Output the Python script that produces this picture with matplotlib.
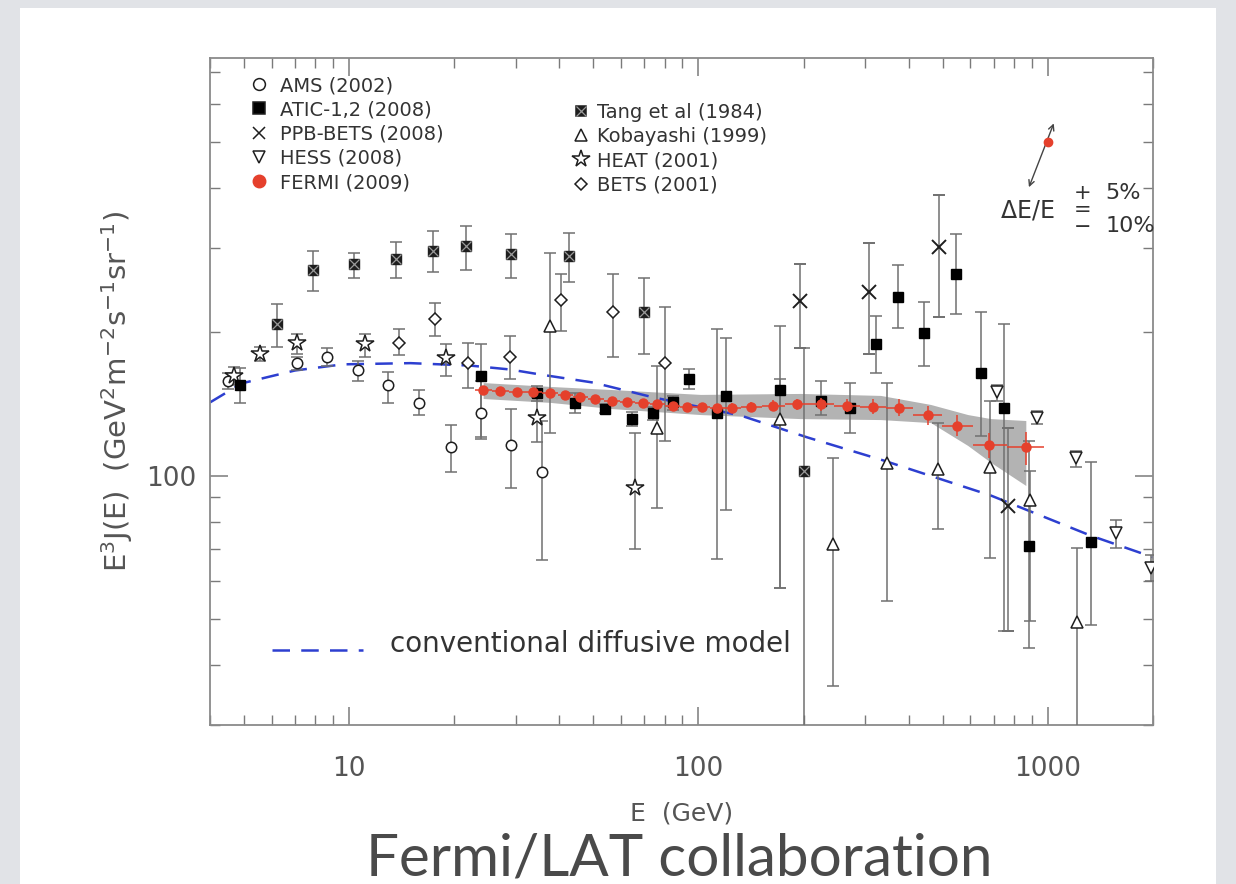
import matplotlib.pyplot as plt
import numpy as np
from matplotlib.lines import Line2D
from matplotlib.patches import Rectangle
from matplotlib.legend_handler import HandlerTuple
from matplotlib.ticker import FixedLocator, LogLocator, NullFormatter, FuncFormatter

# E in GeV, E^3 J(E) in GeV^2 m^-2 s^-1 sr^-1 ; lo/hi are error bar ends
ams_e = [4.5, 7.1, 8.65, 10.6, 12.9, 15.9, 19.6, 23.9, 29.1, 35.7]
ams_j = [158, 172, 177, 166, 154.5, 142, 114.5, 135.5, 115.6, 101.5]
ams_lo = [152, 166, 170, 157.5, 141.6, 133.6, 101.5, 120.2, 94, 66.4]
ams_hi = [164, 177.4, 184.6, 174, 165, 151.4, 127.9, 158, 138.1, 130]

atic_e = [4.87, 23.9, 34.6, 44.4, 54.2, 64.7, 74.3, 84.8, 94.2, 113, 120, 171,
          224, 272, 323, 372, 441, 545, 643, 748, 882, 1328]
atic_j = [154.5, 162, 148.6, 142, 138, 131.6, 135, 142.3, 159, 135.5, 147, 151,
          143.6, 138.8, 189, 237, 198.5, 264, 164, 138.8, 71.3, 72.4]
atic_lo = [141.6, 119.5, 143, 135.5, 135, 127, 130.5, 137.5, 152, 67, 84.5, 58,
           133.6, 123, 164, 204, 170, 218, 121.3, 47.3, 43.6, 48.5]
atic_hi = [168.4, 189, 154, 148.6, 141, 136, 139.5, 147, 167.6, 203, 194, 206,
           158, 156, 216, 276.6, 231.5, 320, 220, 208, 118.4, 106.5]

ppb_e = [195, 307, 487, 768]
ppb_j = [231.6, 243, 300.6, 86.5]
ppb_lo = [185, 180, 215, 47.3]
ppb_hi = [278, 307.6, 388, 125.5]

hess_e = [714, 929, 1203, 1566, 1972]
hess_j = [149.3, 132, 108.6, 75.6, 64.1]
hess_lo = [143.6, 128.4, 104.4, 70.6, 60]
hess_hi = [155, 136.2, 112.8, 80.5, 68]

tang_e = [6.2, 7.9, 10.3, 13.6, 17.4, 21.6, 29.1, 42.5, 70, 200]
tang_j = [208, 270, 278, 284, 296, 302, 291, 289, 220, 102]
tang_lo = [186, 244, 260, 260, 267, 270, 260, 254, 180, 10]
tang_hi = [229, 296, 293, 308, 325, 333, 320, 323, 259, 185]

koba_e = [37.7, 76.3, 171, 242, 346, 484, 682, 888, 1211]
koba_j = [206, 126, 131.6, 72, 106, 103.4, 104, 88.7, 49.2]
koba_lo = [122.5, 85.3, 58, 36.3, 54.7, 77.4, 67.3, 49.6, 10]
koba_hi = [292, 170, 159.6, 108.6, 156.6, 129.1, 143.6, 102.4, 70.6]

heat_e = [4.7, 5.56, 7.1, 11.1, 19.0, 34.6, 66.0]
heat_j = [162, 180, 190, 189, 176, 132, 94]
heat_lo = [155, 174, 180, 177, 162, 117.5, 70.3]
heat_hi = [169, 186, 198, 198, 189, 145.8, 123]

bets_e = [13.9, 17.6, 21.9, 28.9, 40.3, 57.1, 80.4]
bets_j = [190, 213, 172, 177, 233, 220, 172]
bets_lo = [178.6, 196, 152.6, 159.6, 201, 177, 118.4]
bets_hi = [203, 229.5, 190, 196, 265, 265, 226]

fermi_e = [24.2, 27.1, 30.3, 33.7, 37.7, 41.6, 45.9, 50.7, 56.7, 62.6, 69.2, 76.3,
           84.3, 93.0, 102.6, 113.3, 125, 141, 164, 192, 224, 267, 315, 374,
           453, 548, 678, 865]
fermi_j = [151.4, 150.7, 150, 149.3, 148.6, 147.2, 145.8, 145, 143.6, 142.9, 141.6,
           140.9, 140.2, 139.5, 139.5, 138.8, 138.8, 139.5, 140.2, 140.9, 140.9,
           140.2, 139.5, 138.8, 133.6, 127.3, 115.6, 114.5]
fermi_rel = [0.015] * 16 + [0.02, 0.02, 0.025, 0.025, 0.03, 0.03, 0.035, 0.04,
                            0.045, 0.05, 0.06, 0.08]

band_e = [24.2, 37.7, 56.7, 101.4, 196, 332, 462, 590, 687, 865]
band_hi = [156.6, 153.7, 151.4, 147.9, 148.6, 147.2, 140.9, 134.2, 131.6, 130.4]
band_lo = [145, 142.3, 138.1, 134.2, 131.6, 131, 129.1, 115.6, 106.5, 95.3]

model_e = [4.0, 4.93, 7.0, 9.6, 15.0, 22.2, 28.9, 35.3, 50.0, 74.3, 132, 205, 339,
           687, 1328, 2014]
model_j = [142.3, 156, 166, 171, 172, 170, 166.8, 162.8, 156.6, 145.8, 133.6, 120.2,
           107.5, 90.8, 74.8, 67.3]


def yerr(j, lo, hi):
    j = np.asarray(j, float)
    return [j - np.asarray(lo, float), np.asarray(hi, float) - j]


tc = '#7a7a7a'
plt.rcParams.update({
    'xtick.direction': 'in', 'ytick.direction': 'in',
    'xtick.top': True, 'ytick.right': True,
    'xtick.major.size': 13, 'ytick.major.size': 13,
    'xtick.minor.size': 7, 'ytick.minor.size': 7,
    'xtick.major.width': 1.1, 'ytick.major.width': 1.1,
    'xtick.minor.width': 1.0, 'ytick.minor.width': 1.0,
    'xtick.color': tc, 'ytick.color': tc,
    'xtick.labelcolor': '#555555', 'ytick.labelcolor': '#555555',
    'xtick.labelsize': 19, 'ytick.labelsize': 19,
    'xtick.major.pad': 22, 'ytick.major.pad': 10,
})

W, H = 1236, 884
fig = plt.figure(figsize=(W / 100, H / 100), dpi=100, facecolor='#e1e3e7')
fig.patches.append(Rectangle((20 / W, 0), 1196 / W, 876 / H, transform=fig.transFigure,
                             facecolor='white', edgecolor='none', zorder=-10))
ax = fig.add_axes([210 / W, 159 / H, 943 / W, 667 / H])
ax.set_xscale('log')
ax.set_yscale('log')

ecol = '#707070'
ek = dict(ls='none', ecolor=ecol, elinewidth=1.1, capsize=4.5, capthick=1.1, zorder=3)
dark = '#1e1e1e'

ax.fill_between(band_e, band_lo, band_hi, color='#b3b3b3', lw=0, zorder=1)
ax.plot(model_e, model_j, color='#2d3fd0', lw=1.8, ls=(0, (7, 4.5)), zorder=2)

ax.errorbar(ams_e, ams_j, yerr=yerr(ams_j, ams_lo, ams_hi), marker='o', ms=7.5,
            mfc='white', mec=dark, mew=1.1, **ek)
ax.errorbar(bets_e, bets_j, yerr=yerr(bets_j, bets_lo, bets_hi), marker='D', ms=6.5,
            mfc='white', mec=dark, mew=1.1, **ek)
ax.errorbar(heat_e, heat_j, yerr=yerr(heat_j, heat_lo, heat_hi), marker='*', ms=13,
            mfc='white', mec=dark, mew=1.1, **ek)
ax.errorbar(koba_e, koba_j, yerr=yerr(koba_j, koba_lo, koba_hi), marker='^', ms=8.5,
            mfc='white', mec=dark, mew=1.1, **ek)
ax.errorbar(hess_e, hess_j, yerr=yerr(hess_j, hess_lo, hess_hi), marker='v', ms=8.5,
            mfc='white', mec=dark, mew=1.1, **ek)
ax.errorbar(ppb_e, ppb_j, yerr=yerr(ppb_j, ppb_lo, ppb_hi), marker='x', ms=9.5,
            mec=dark, mew=1.4, **ek)
ax.errorbar(tang_e, tang_j, yerr=yerr(tang_j, tang_lo, tang_hi), marker='s', ms=7,
            mfc=dark, mec=dark, **ek)
ax.plot(tang_e, tang_j, ls='none', marker='x', ms=7, mec='#9a9a9a', mew=0.9, zorder=4)
ax.errorbar(atic_e, atic_j, yerr=yerr(atic_j, atic_lo, atic_hi), marker='s', ms=7.5,
            mfc='black', mec='black', **ek)

# Fermi points with bin-width horizontal bars
fe = np.asarray(fermi_e)
edges = np.sqrt(fe[1:] * fe[:-1])
left = np.concatenate([[fe[0] ** 2 / edges[0]], edges])
right = np.concatenate([edges, [fe[-1] ** 2 / edges[-1]]])
fj = np.asarray(fermi_j)
red = '#e5402c'
ax.errorbar(fe, fj, xerr=[fe - left, right - fe], yerr=fj * np.asarray(fermi_rel),
            ls='none', marker='o', ms=6.5, mfc=red, mec=red, ecolor=red,
            elinewidth=1.1, capsize=0, zorder=5)

ax.set_xlim(4, 2000)
ax.set_ylim(30, 750)

for s in ax.spines.values():
    s.set_color('#8a8a8a')
    s.set_linewidth(1.3)
ax.xaxis.set_major_locator(FixedLocator([10, 100, 1000]))
ax.yaxis.set_major_locator(FixedLocator([100]))
ax.xaxis.set_major_formatter(FuncFormatter(lambda v, p: '%d' % v))
ax.yaxis.set_major_formatter(FuncFormatter(lambda v, p: '%d' % v))
ax.xaxis.set_minor_locator(LogLocator(base=10, subs=np.arange(2, 10), numticks=20))
ax.yaxis.set_minor_locator(LogLocator(base=10, subs=np.arange(2, 10), numticks=20))
ax.xaxis.set_minor_formatter(NullFormatter())
ax.yaxis.set_minor_formatter(NullFormatter())
ax.tick_params(axis='both', which='both', direction='in', top=True, right=True,
               bottom=True, left=True, color=tc, zorder=6)

ax.set_xlabel('E  (GeV)', fontsize=18, color='#555555', labelpad=14)
ax.set_ylabel(r'E$^3$J(E)  (GeV$^2$m$^{-2}$s$^{-1}$sr$^{-1}$)', fontsize=21,
              color='#555555', labelpad=8)

# legends
fs = 14
mk = dict(ls='none', mec=dark, mew=1.1)
h1 = [Line2D([], [], marker='o', ms=8.5, mfc='white', **mk),
      Line2D([], [], marker='s', ms=8.5, mfc='black', **mk),
      Line2D([], [], marker='x', ms=8.5, **mk),
      Line2D([], [], marker='v', ms=8.5, mfc='white', **mk),
      Line2D([], [], marker='o', ms=9, mfc=red, mec=red, ls='none')]
l1 = ['AMS (2002)', 'ATIC-1,2 (2008)', 'PPB-BETS (2008)', 'HESS (2008)', 'FERMI (2009)']
leg1 = ax.legend(h1, l1, loc='upper left', bbox_to_anchor=(0.0414, 0.973), frameon=False,
                 fontsize=fs, handlelength=1.0, handletextpad=0.6, borderpad=0,
                 borderaxespad=0, labelspacing=0.27)
for t in leg1.get_texts():
    t.set_color('#333333')
ax.add_artist(leg1)

tang_h = (Line2D([], [], marker='s', ms=7, mfc=dark, **mk),
          Line2D([], [], marker='x', ms=7, ls='none', mec='#9a9a9a', mew=0.9))
h2 = [tang_h,
      Line2D([], [], marker='^', ms=8.5, mfc='white', **mk),
      Line2D([], [], marker='*', ms=13, mfc='white', **mk),
      Line2D([], [], marker='D', ms=6.5, mfc='white', **mk)]
l2 = ['Tang et al (1984)', 'Kobayashi (1999)', 'HEAT (2001)', 'BETS (2001)']
leg2 = ax.legend(h2, l2, loc='upper left', bbox_to_anchor=(0.383, 0.933), frameon=False,
                 fontsize=fs, handlelength=1.0, handletextpad=0.35, borderpad=0,
                 borderaxespad=0, labelspacing=0.27,
                 handler_map={tuple: HandlerTuple(ndivide=1, pad=0)})
for t in leg2.get_texts():
    t.set_color('#333333')

# model key
ax.plot([0.066, 0.162], [0.112, 0.112], transform=ax.transAxes, color='#2d3fd0',
        lw=1.8, ls=(0, (7, 4.5)))
ax.text(0.191, 0.122, 'conventional diffusive model', transform=ax.transAxes,
        fontsize=20, color='#333333', va='center', ha='left')

# energy scale uncertainty marker
ax.annotate('', xy=(1040, 547), xytext=(883, 402),
            arrowprops=dict(arrowstyle='<->', color='#444444', lw=1.0,
                            shrinkA=0, shrinkB=0))
ax.plot([1000], [499], marker='o', ms=6, color=red, zorder=6)
tk = dict(transform=ax.transAxes, color='#333333', va='center')
ax.text(0.838, 0.772, r'$\Delta$E/E', ha='left', fontsize=17, **tk)
ax.text(0.925, 0.772, '+\n=\n\u2212', ha='center', fontsize=15, linespacing=0.8, **tk)
ax.text(0.968, 0.797, '5%', ha='center', fontsize=16, **tk)
ax.text(0.976, 0.748, '10%', ha='center', fontsize=16, **tk)

fig.text(679 / W, 8 / H, 'Fermi/LAT collaboration', ha='center', va='baseline',
         fontsize=42, color='#4a4a4a', family='Lato', fontweight='normal')

fig.savefig('out.png', dpi=100, facecolor=fig.get_facecolor())
